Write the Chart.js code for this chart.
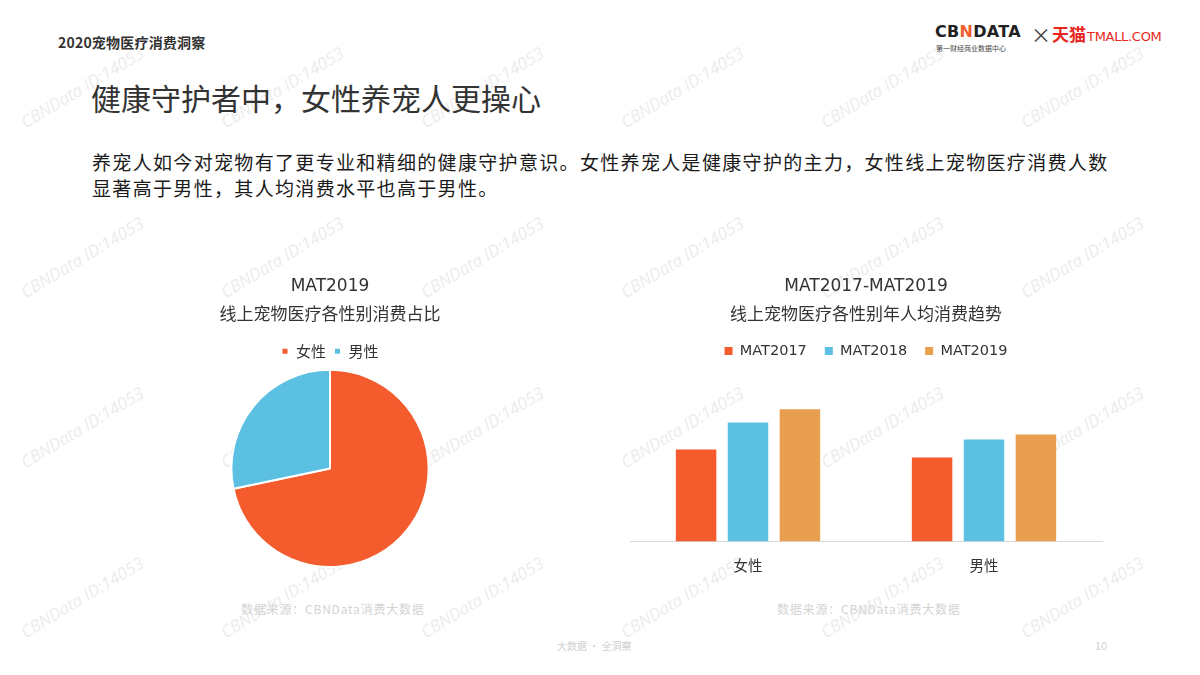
<!DOCTYPE html>
<html>
<head>
<meta charset="utf-8">
<script src="https://cdn.jsdelivr.net/npm/chart.js@4"></script>
<style>
  body { margin: 0; background: #fff; font-family: "Noto Sans CJK SC", "Noto Sans", sans-serif; }
  #page { position: relative; width: 1200px; height: 675px; overflow: hidden; background: #fff; }
  .abs { position: absolute; white-space: nowrap; }
  .wm { position: absolute; font-family: "Open Sans", sans-serif; font-style: italic; font-size: 17px; color: #ececec; transform: rotate(-31deg); transform-origin: left bottom; white-space: nowrap; }
  .src { font-size: 12px; color: #d4d4d4; letter-spacing: 0.8px; }
</style>
</head>
<body>
<div id="page">
  <div id="wms"></div>

  <div class="abs" style="left:58px; top:32px; font-size:14px; font-weight:bold; color:#333; letter-spacing:0.2px;">2020宠物医疗消费洞察</div>

  <div class="abs" style="left:935px; top:22px; font-family:'DejaVu Sans',sans-serif; font-size:16px; font-weight:bold; color:#222; letter-spacing:0.3px;">CB<span style="color:#f25c2e">N</span>DATA</div>
  <div class="abs" style="left:936px; top:43px; font-size:7px; color:#444;">第一财经商业数据中心</div>
  <div class="abs" style="left:1031px; top:20px; font-size:20px; color:#444;">×</div>
  <div class="abs" style="left:1052px; top:21px; font-size:17px; font-weight:bold; color:#e8261d;">天猫<span style="font-family:'DejaVu Sans',sans-serif; font-size:13px; font-weight:normal; letter-spacing:-0.3px; margin-left:1px;">TMALL.COM</span></div>

  <div class="abs" style="left:91px; top:75px; font-size:30px; color:#333;">健康守护者中，女性养宠人更操心</div>
  <div class="abs" style="left:92px; top:149px; font-size:19px; color:#1a1a1a; line-height:26px; letter-spacing:1.33px;">养宠人如今对宠物有了更专业和精细的健康守护意识。女性养宠人是健康守护的主力，女性线上宠物医疗消费人数<br>显著高于男性，其人均消费水平也高于男性。</div>

  <div class="abs" style="left:180px; top:268px; width:300px; height:310px;"><canvas id="pieChart"></canvas></div>
  <div class="abs" style="left:620px; top:268px; width:490px; height:321px;"><canvas id="barChart"></canvas></div>

  <div class="abs src" style="left:241px; top:600px;">数据来源：CBNData消费大数据</div>
  <div class="abs src" style="left:777px; top:600px;">数据来源：CBNData消费大数据</div>

  <div class="abs" style="left:557px; top:638px; font-size:10px; color:#d0d0d0;">大数据 · 全洞察</div>
  <div class="abs" style="left:1095px; top:637px; font-size:11px; color:#d0d0d0;">10</div>
</div>

<script>
// 数据
const genders = ['女性', '男性'];
const shareValues = [71.7, 28.3];
const years = ['MAT2017', 'MAT2018', 'MAT2019'];
const perCapita2017 = [92, 84];
const perCapita2018 = [119, 102];
const perCapita2019 = [132, 107];

const RED = '#f45c2e';
const BLUE = '#5bc0e2';
const ORANGE = '#e8a050';

// watermark grid
const wms = document.getElementById('wms');
for (let r = 0; r < 4; r++) {
    for (let c = 0; c < 6; c++) {
        const d = document.createElement('div');
        d.className = 'wm';
        d.textContent = 'CBNData ID:14053';
        d.style.left = (28 + c * 200) + 'px';
        d.style.top = (110 + r * 170) + 'px';
        wms.appendChild(d);
    }
}

Chart.defaults.font.family = '"Noto Sans CJK SC", "Noto Sans", sans-serif';
Chart.defaults.color = '#333';

const titleFont = { family: '"DejaVu Sans", "Noto Sans CJK SC", sans-serif', size: 17, weight: 'normal', lineHeight: 1.7 };

new Chart(document.getElementById('pieChart'), {
    type: 'pie',
    data: {
        labels: genders,
        datasets: [{
            data: shareValues,
            backgroundColor: [RED, BLUE],
            borderColor: '#fff',
            borderWidth: 2
        }]
    },
    options: {
        responsive: true,
        maintainAspectRatio: false,
        animation: false,
        layout: { padding: { bottom: 10 } },
        plugins: {
            title: { display: true, text: ['MAT2019', '线上宠物医疗各性别消费占比'], color: '#333', font: titleFont, padding: { top: 4, bottom: 6 } },
            legend: {
                position: 'top',
                labels: { usePointStyle: true, pointStyle: 'rect', boxWidth: 7, boxHeight: 7, font: { size: 15 }, color: '#333', padding: 8 }
            },
            tooltip: { enabled: false }
        }
    }
});

new Chart(document.getElementById('barChart'), {
    type: 'bar',
    data: {
        labels: genders,
        datasets: [
            { label: years[0], data: perCapita2017, backgroundColor: RED },
            { label: years[1], data: perCapita2018, backgroundColor: BLUE },
            { label: years[2], data: perCapita2019, backgroundColor: ORANGE }
        ]
    },
    options: {
        responsive: true,
        maintainAspectRatio: false,
        animation: false,
        categoryPercentage: 0.66,
        barPercentage: 0.78,
        layout: { padding: { left: 10, right: 8, bottom: 8 } },
        scales: {
            x: {
                grid: { display: false },
                border: { color: '#d9d9d9', width: 1 },
                ticks: { font: { size: 14.5 }, color: '#333', padding: 7 }
            },
            y: { display: false, min: 0, max: 173 }
        },
        plugins: {
            title: { display: true, text: ['MAT2017-MAT2019', '线上宠物医疗各性别年人均消费趋势'], color: '#333', font: titleFont, padding: { top: 4, bottom: -4 } },
            legend: {
                position: 'top',
                labels: { usePointStyle: true, pointStyle: 'rect', boxWidth: 8, boxHeight: 8, font: { family: '"DejaVu Sans", sans-serif', size: 14.5 }, color: '#333', padding: 18 }
            },
            tooltip: { enabled: false }
        }
    }
});
</script>
</body>
</html>
